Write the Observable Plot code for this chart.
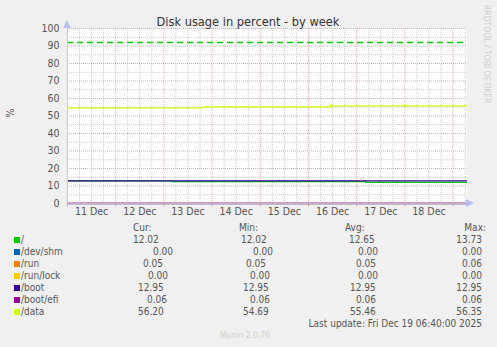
<!DOCTYPE html>
<html>
<head>
<meta charset="utf-8">
<script src="https://cdn.jsdelivr.net/npm/d3@7"></script>
<script src="https://cdn.jsdelivr.net/npm/@observablehq/plot@0.6"></script>
<style>
  html, body { margin: 0; padding: 0; background: #F0F0F0; }
  #wrap { position: relative; width: 497px; height: 347px; background: #F0F0F0; overflow: hidden;
          font-family: "DejaVu Sans Condensed", "DejaVu Sans", sans-serif; font-stretch: condensed; }
  #wrap svg { position: absolute; left: 0; }
</style>
</head>
<body>
<div id="wrap"></div>
<script>
// ---------- data ----------
const title = "Disk usage in percent - by week";
const yLabel = "%";
const sideText = "RRDTOOL / TOBI OETIKER";
const lastUpdate = "Last update: Fri Dec 19 06:40:00 2025";
const version = "Munin 2.0.76";
const rangeStart = "2025-12-11T00:00Z";
const rangeEnd = "2025-12-19T06:40Z";
const dayLabels = ["11 Dec","12 Dec","13 Dec","14 Dec","15 Dec","16 Dec","17 Dec","18 Dec"];
const yTicks = [0,10,20,30,40,50,60,70,80,90,100];
const warning = 92;

const seriesNames  = ["/", "/dev/shm", "/run", "/run/lock", "/boot", "/boot/efi", "/data"];
const seriesColors = ["#00CC00", "#0066B3", "#FF8000", "#FFCC00", "#330099", "#990099", "#CCFF00"];

// step series: [time, value]
const rootVals = [["2025-12-11T00:00Z",12.95],["2025-12-13T04:00Z",12.45],["2025-12-17T04:30Z",12.02],
  ["2025-12-17T11:00Z",12.3],["2025-12-17T11:30Z",12.02],["2025-12-17T20:00Z",12.3],["2025-12-17T20:30Z",12.02],
  ["2025-12-19T06:40Z",12.02]];
const devshmVals = [["2025-12-11T00:00Z",0.00],["2025-12-19T06:40Z",0.00]];
const runVals = [["2025-12-11T00:00Z",0.05],["2025-12-19T06:40Z",0.05]];
const runlockVals = [["2025-12-11T00:00Z",0.00],["2025-12-19T06:40Z",0.00]];
const bootVals = [["2025-12-11T00:00Z",12.95],["2025-12-19T06:40Z",12.95]];
const bootefiVals = [["2025-12-11T00:00Z",0.06],["2025-12-19T06:40Z",0.06]];
const dataVals = [["2025-12-11T00:00Z",54.69],["2025-12-13T19:40Z",55.25],["2025-12-16T11:00Z",56.35],
  ["2025-12-16T11:30Z",55.75],["2025-12-17T23:30Z",56.35],["2025-12-18T00:00Z",55.8],["2025-12-19T06:40Z",55.8]];

const curVals = ["12.02","0.00","0.05","0.00","12.95","0.06","56.20"];
const minVals = ["12.02","0.00","0.05","0.00","12.95","0.06","54.69"];
const avgVals = ["12.65","0.00","0.05","0.00","12.95","0.06","55.46"];
const maxVals = ["13.73","0.00","0.06","0.00","12.95","0.06","56.35"];
const colHeads = ["Cur:","Min:","Avg:","Max:"];

// ---------- layout (positions only) ----------
const curX = [133,153,143,148,138,147,138];
const minX = [241,253,246,250,243,250,243];
const avgX = [349,358,356,358,350,356,350];
const maxRight = 482;

// ---------- build ----------
const allVals = [rootVals, devshmVals, runVals, runlockVals, bootVals, bootefiVals, dataVals];
const t0 = new Date(rangeStart), t1 = new Date(rangeEnd);
const rows = [];
allVals.forEach((vals, i) => vals.forEach(([t, v]) => rows.push({name: seriesNames[i], t: new Date(t), v})));

const dayMs = 864e5, hourMs = 36e5;
const majorX = d3.utcDay.range(t0, t1);
const minorX = d3.utcHour.every(6).range(t0, t1).filter(d => d.getUTCHours() !== 0);
const labelPos = dayLabels.map((s, i) => ({s, t: new Date(+t0 + i * dayMs + 12 * hourMs)}));
const minorY = d3.range(5, 100, 10);

const H = 220;
const FONT = "DejaVu Sans Condensed, DejaVu Sans, sans-serif";
const plot = Plot.plot({
  width: 497, height: H,
  marginLeft: 67, marginRight: 31, marginTop: 28, marginBottom: 17,
  style: {background: "transparent", fontFamily: FONT, fontSize: "10px"},
  x: {type: "utc", domain: [t0, t1], axis: null},
  y: {type: "linear", domain: [0, 100], axis: null},
  color: {domain: seriesNames, range: seriesColors},
  marks: [
    Plot.frame({fill: "white", stroke: null}),
    Plot.ruleX(minorX, {y1: 0, y2: 100, stroke: "#c8c8c8", strokeDasharray: "1,1", strokeWidth: 1}),
    Plot.ruleY(minorY, {stroke: "#c8c8c8", strokeDasharray: "1,1", strokeWidth: 1}),
    Plot.ruleX(majorX, {y1: 0, y2: 100, stroke: "#f0a0a0", strokeDasharray: "1,1", strokeWidth: 1}),
    Plot.ruleY(yTicks.slice(1), {stroke: "#f0a0a0", strokeDasharray: "1,1", strokeWidth: 1}),
    Plot.ruleX(majorX, {y1: -2, y2: 0, stroke: "#f0a0a0", strokeWidth: 1}),
    Plot.text(yTicks, {frameAnchor: "left", y: d => d, text: d => String(d), textAnchor: "end", dx: -8, fill: "#555", fontSize: 10.5}),
    Plot.text(labelPos, {x: "t", frameAnchor: "bottom", text: "s", dy: 11, fill: "#555", fontSize: 10.5}),
    // warning line
    Plot.ruleY([warning], {stroke: "#00CC00", strokeDasharray: "6,4", strokeWidth: 1.3}),
    // series
    Plot.line(rows, {x: "t", y: "v", z: "name", stroke: "name", curve: "step-after", strokeWidth: 1.3}),
    // axes on top
    Plot.ruleX([t0], {stroke: "#c4c4ee", strokeWidth: 1, y1: 0, y2: 100}),
    Plot.ruleY([0], {stroke: "#c9a8e0", strokeWidth: 1.8})
  ]
});
const wrap = document.getElementById("wrap");
plot.style.top = "0px";
wrap.appendChild(plot);

// arrows
const asvg = d3.select(plot);
asvg.append("path").attr("d", "M63,28 L67,20 L71,28 Z").attr("fill", "#b8c0f0");
asvg.append("path").attr("d", "M466,199 L474,203 L466,207 Z").attr("fill", "#b8c0f0");

// overlay svg for title and side texts
const ov = d3.select(wrap).append("svg").attr("width", 497).attr("height", 347)
  .style("top", "0px").style("pointer-events", "none")
  .style("font-family", FONT);
ov.append("text").attr("x", 248).attr("y", 26).attr("text-anchor", "middle")
  .attr("font-size", 12.7).attr("fill", "#333").text(title);
ov.append("text").attr("transform", "translate(14,113) rotate(-90)").attr("text-anchor", "middle")
  .attr("font-size", 10.5).attr("fill", "#555").text(yLabel);
ov.append("text").attr("transform", "translate(484,5) rotate(90)").attr("text-anchor", "start")
  .attr("font-size", 8.5).attr("fill", "#cfcfcf").text(sideText);

// legend
const lg = ov.append("g").attr("font-size", 10).attr("fill", "#555");
const headX = [133, 239, 345, null];
colHeads.forEach((h, i) => {
  const t = lg.append("text").attr("y", 231).text(h);
  if (i < 3) t.attr("x", headX[i]); else t.attr("x", maxRight + 4).attr("text-anchor", "end");
});
seriesNames.forEach((n, i) => {
  const y = 243 + i * 12;
  lg.append("rect").attr("x", 14).attr("y", y - 6).attr("width", 6).attr("height", 6).attr("fill", seriesColors[i]);
  lg.append("text").attr("x", 21).attr("y", y).text(n);
  lg.append("text").attr("x", curX[i]).attr("y", y).text(curVals[i]);
  lg.append("text").attr("x", minX[i]).attr("y", y).text(minVals[i]);
  lg.append("text").attr("x", avgX[i]).attr("y", y).text(avgVals[i]);
  lg.append("text").attr("x", maxRight).attr("y", y).attr("text-anchor", "end").text(maxVals[i]);
});
lg.append("text").attr("x", maxRight).attr("y", 327).attr("text-anchor", "end").text(lastUpdate);
ov.append("text").attr("x", 245).attr("y", 338).attr("text-anchor", "middle")
  .attr("font-size", 8.5).attr("fill", "#cfcfcf").text(version);
</script>
</body>
</html>
